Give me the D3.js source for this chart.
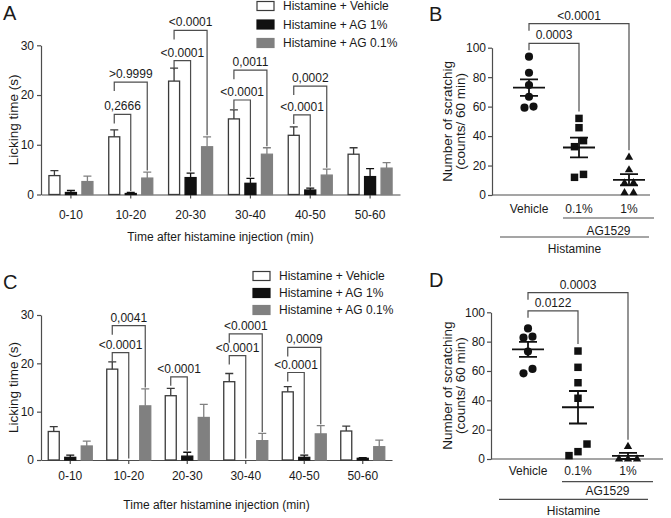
<!DOCTYPE html>
<html>
<head>
<meta charset="utf-8">
<script src="https://cdn.jsdelivr.net/npm/d3@7"></script>
<style>
  body { margin: 0; background: #fff; }
  svg { font-family: "Liberation Sans", Arial, Helvetica, sans-serif; }
  .labelText { font-size: 12px; fill: #1a1a1a; }
  .axisTitle { font-size: 13.5px; fill: #1a1a1a; }
  .panelLetter { font-size: 20px; fill: #1a1a1a; }
</style>
</head>
<body>
<svg id="fig" width="671" height="518"></svg>
<script>
// ---- data ----
const timeBins = ['0-10', '10-20', '20-30', '30-40', '40-50', '50-60'];
const seriesNames = ['Histamine + Vehicle', 'Histamine + AG 1%', 'Histamine + AG 0.1%'];
const licksTicks = [0, 10, 20, 30];

// panel A: mean and SEM per time bin
const aVehicle = [3.8, 11.6, 22.8, 15.2, 11.9, 8.1];
const aVehicleErr = [1.0, 1.4, 2.6, 1.8, 1.7, 1.3];
const aAg1 = [0.4, 0.2, 3.4, 2.25, 0.9, 3.6];
const aAg1Err = [0.4, 0.2, 0.9, 1.0, 0.4, 1.6];
const aAg01 = [2.6, 3.3, 9.6, 8.1, 3.9, 5.3];
const aAg01Err = [1.1, 1.2, 2.0, 1.3, 1.2, 1.1];
const aComparisons = [
  { bin: '10-20', target: 1, level: 16.1, text: '0,2666' },
  { bin: '10-20', target: 2, level: 22.6, text: '>0.9999' },
  { bin: '20-30', target: 1, level: 26.9, text: '<0.0001' },
  { bin: '20-30', target: 2, level: 33.0, text: '<0.0001' },
  { bin: '30-40', target: 1, level: 19.0, text: '<0.0001' },
  { bin: '30-40', target: 2, level: 25.0, text: '0,0011' },
  { bin: '40-50', target: 1, level: 16.0, text: '<0.0001' },
  { bin: '40-50', target: 2, level: 21.8, text: '0,0002' },
];

// panel C
const cVehicle = [5.9, 18.8, 13.3, 16.2, 14.1, 6.0];
const cVehicleErr = [1.0, 1.5, 1.5, 1.7, 1.1, 1.0];
const cAg1 = [0.55, 0, 0.8, 0, 0.55, 0.35];
const cAg1Err = [0.45, 0, 0.8, 0, 0.45, 0.15];
const cAg01 = [2.9, 11.2, 8.8, 4.0, 5.4, 2.75];
const cAg01Err = [1.0, 3.5, 2.7, 1.5, 1.7, 1.35];
const cComparisons = [
  { bin: '10-20', target: 1, level: 22.2, text: '<0.0001' },
  { bin: '10-20', target: 2, level: 27.8, text: '0,0041' },
  { bin: '20-30', target: 1, level: 17.2, text: '<0.0001' },
  { bin: '30-40', target: 1, level: 21.6, text: '<0.0001' },
  { bin: '30-40', target: 2, level: 26.1, text: '<0.0001' },
  { bin: '40-50', target: 1, level: 18.1, text: '<0.0001' },
  { bin: '40-50', target: 2, level: 23.3, text: '0,0009' },
];

// scatter panels: individual animals
const doseGroups = ['Vehicle', '0.1%', '1%'];
const countTicks = [0, 20, 40, 60, 80, 100];
const bVehicle = [93.9, 83.0, 74.7, 66.7, 60.0, 59.3];
const bAg01 = [52.0, 45.7, 36.9, 32.8, 14.0, 12.0];
const bAg1 = [25.6, 17.0, 8.3, 8.1, 1.5, 1.5];
const bComparisons = [
  { target: '0.1%', level: 103, text: '0.0003' },
  { target: '1%', level: 116.3, text: '<0.0001' },
];
const dVehicle = [89.0, 83.4, 82.7, 73.2, 61.4, 58.4];
const dAg01 = [73.6, 62.5, 52.0, 41.4, 10.2, 5.0, 2.3];
const dAg1 = [8.4, 0, 0, 0];
const dComparisons = [
  { target: '0.1%', level: 101, text: '0.0122' },
  { target: '1%', level: 113.4, text: '0.0003' },
];

// ---- drawing ----
const svg = d3.select('#fig');
const axisColor = '#4d4d4d';
const ink = '#1a1a1a';
const barFill = ['#ffffff', '#111111', '#808080'];
const barStroke = ['#3a3a3a', '#111111', '#808080'];

function styleAxis(sel) {
  sel.attr('font-size', null).attr('font-family', null)
  sel.select('.domain').attr('stroke', axisColor).attr('stroke-width', 1.2)
  sel.selectAll('.tick line').attr('stroke', axisColor).attr('stroke-width', 1.2)
  sel.selectAll('.tick text').attr('class', 'labelText').attr('fill', ink)
}

function drawBars(o) {
  const g = svg.append('g')
  const y = d3.scaleLinear().domain([0, 30]).range([o.zeroY, o.topY])
  const x = d3.scaleBand().domain(timeBins).range([o.left, o.right])
  const inner = d3.scaleBand().domain([0, 1, 2]).range([-22, 22]).paddingInner(1 / 3)
  const barX = (bin, s) => x(bin) + x.bandwidth() / 2 + inner(s)
  const barMid = (bin, s) => barX(bin, s) + inner.bandwidth() / 2

  g.append('g')
    .attr('transform', `translate(${o.left}, 0)`)
    .call(d3.axisLeft(y).tickValues(licksTicks).tickSize(4).tickSizeOuter(0).tickPadding(3))
    .call(styleAxis)

  g.append('g')
    .attr('transform', `translate(0, ${o.zeroY})`)
    .call(d3.axisBottom(x).tickSize(4).tickSizeOuter(0).tickPadding(o.tickPad))
    .call(styleAxis)

  o.series.forEach((vals, s) => {
    const rows = timeBins.map((bin, i) => ({ bin, v: vals[i], e: o.errs[s][i] })).filter((d) => d.v > 0)
    const sg = g.append('g')
    sg.selectAll('rect')
      .data(rows)
      .enter()
      .append('rect')
      .attr('x', (d) => barX(d.bin, s))
      .attr('width', inner.bandwidth())
      .attr('y', (d) => y(d.v))
      .attr('height', (d) => y(0) - y(d.v))
      .attr('fill', barFill[s])
      .attr('stroke', barStroke[s])
      .attr('stroke-width', 1.3)
    sg.selectAll('path')
      .data(rows)
      .enter()
      .append('path')
      .attr('d', (d) => {
        const cx = barMid(d.bin, s)
        return `M${cx},${y(d.v)}V${y(d.v + d.e)}M${cx - 4},${y(d.v + d.e)}H${cx + 4}`
      })
      .attr('fill', 'none')
      .attr('stroke', barStroke[s])
      .attr('stroke-width', 1.3)
  })

  const cg = g.append('g')
  o.comparisons.forEach((c) => {
    const i = timeBins.indexOf(c.bin)
    const x1 = barMid(c.bin, 0)
    const x2 = barMid(c.bin, c.target)
    const yb = y(c.level)
    const end = y(o.series[c.target][i] + o.errs[c.target][i]) - 1.5
    cg.append('path')
      .attr('d', `M${x1},${yb + 9}V${yb}H${x2}V${end}`)
      .attr('fill', 'none')
      .attr('stroke', axisColor)
      .attr('stroke-width', 1.2)
    cg.append('text')
      .text(c.text)
      .attr('x', (x1 + x2) / 2)
      .attr('y', yb - 4)
      .attr('text-anchor', 'middle')
      .attr('class', 'labelText')
  })

  g.append('text')
    .text('Licking time (s)')
    .attr('transform', `translate(${o.yLabelX}, ${(o.zeroY + o.topY) / 2}) rotate(-90)`)
    .attr('text-anchor', 'middle')
    .attr('dy', '0.35em')
    .attr('class', 'axisTitle')

  g.append('text')
    .text('Time after histamine injection (min)')
    .attr('x', (o.left + o.right) / 2)
    .attr('y', o.titleY)
    .attr('text-anchor', 'middle')
    .attr('class', 'labelText')

  const lg = g.append('g')
  seriesNames.forEach((name, s) => {
    lg.append('rect')
      .attr('x', o.legendX)
      .attr('y', o.legendY + s * o.legendStep - 4.5)
      .attr('width', 17)
      .attr('height', 9)
      .attr('fill', barFill[s])
      .attr('stroke', barStroke[s])
      .attr('stroke-width', 1.2)
    lg.append('text')
      .text(name)
      .attr('x', o.legendX + 26)
      .attr('y', o.legendY + s * o.legendStep)
      .attr('dy', '0.35em')
      .attr('class', 'labelText')
  })

  g.append('text')
    .text(o.letter)
    .attr('x', o.letterX)
    .attr('y', o.letterY)
    .attr('class', 'panelLetter')
}

// lay out the dots of one column: dots that overlap vertically sit side by side
function spread(vals, y) {
  const order = vals.map((v, i) => i).sort((a, b) => vals[b] - vals[a])
  const offs = new Array(vals.length).fill(0)
  let cluster = []
  const flush = () => {
    const c = cluster.slice().sort((a, b) => vals[a] - vals[b])
    c.forEach((idx, k) => { offs[idx] = (k - (c.length - 1) / 2) * 9 })
    cluster = []
  }
  order.forEach((idx, k) => {
    if (k > 0 && y(vals[idx]) - y(vals[order[k - 1]]) >= 8) flush()
    cluster.push(idx)
  })
  flush()
  return offs
}

function drawScatter(o) {
  const g = svg.append('g')
  const y = d3.scaleLinear().domain([0, 100]).range([o.zeroY, o.topY])
  const x = d3.scalePoint().domain(doseGroups).range([o.left + 37, o.left + 137])
  const shapes = [d3.symbolCircle, d3.symbolSquare, d3.symbolTriangle]
  const sizes = [52, 56, 30]

  g.append('g')
    .attr('transform', `translate(${o.left}, 0)`)
    .call(d3.axisLeft(y).tickValues(countTicks).tickSize(4).tickSizeOuter(0).tickPadding(2))
    .call(styleAxis)

  g.append('line')
    .attr('x1', o.left)
    .attr('x2', o.right)
    .attr('y1', o.zeroY)
    .attr('y2', o.zeroY)
    .attr('stroke', axisColor)
    .attr('stroke-width', 1.2)

  o.groups.forEach((vals, gi) => {
    const cx = x(doseGroups[gi])
    const offs = spread(vals, y)
    g.append('g')
      .selectAll('path')
      .data(vals)
      .enter()
      .append('path')
      .attr('d', d3.symbol().type(shapes[gi]).size(sizes[gi]))
      .attr('transform', (d, i) => `translate(${cx + offs[i]}, ${y(d)})`)
      .attr('fill', '#111')

    const m = d3.mean(vals)
    const sem = d3.deviation(vals) / Math.sqrt(vals.length)
    g.append('path')
      .attr('d', `M${cx - 16},${y(m)}H${cx + 16}` +
        `M${cx - 9},${y(m + sem)}H${cx + 9}M${cx - 9},${y(m - sem)}H${cx + 9}` +
        `M${cx},${y(m + sem)}V${y(m - sem)}`)
      .attr('fill', 'none')
      .attr('stroke', '#111')
      .attr('stroke-width', 1.8)
  })

  o.comparisons.forEach((c) => {
    const gi = doseGroups.indexOf(c.target)
    const x1 = x(doseGroups[0])
    const x2 = x(c.target)
    const yb = y(c.level)
    const end = y(d3.max(o.groups[gi])) - 7
    g.append('path')
      .attr('d', `M${x1},${yb + 7}V${yb}H${x2}V${end}`)
      .attr('fill', 'none')
      .attr('stroke', axisColor)
      .attr('stroke-width', 1.2)
    g.append('text')
      .text(c.text)
      .attr('x', (x1 + x2) / 2)
      .attr('y', yb - 4)
      .attr('text-anchor', 'middle')
      .attr('class', 'labelText')
  })

  // treatment labels under the axis
  g.selectAll('.cat')
    .data(doseGroups)
    .enter()
    .append('text')
    .text((d) => d)
    .attr('x', (d) => x(d))
    .attr('y', o.zeroY + o.catDy)
    .attr('text-anchor', 'middle')
    .attr('class', 'labelText')

  g.append('line')
    .attr('x1', x('0.1%') - 16).attr('x2', x('1%') + 25)
    .attr('y1', o.zeroY + o.line1Dy).attr('y2', o.zeroY + o.line1Dy)
    .attr('stroke', axisColor).attr('stroke-width', 1.2)
  g.append('text')
    .text('AG1529')
    .attr('x', (x('0.1%') - 16 + x('1%') + 25) / 2)
    .attr('y', o.zeroY + o.agDy)
    .attr('text-anchor', 'middle')
    .attr('class', 'labelText')
  g.append('line')
    .attr('x1', x('Vehicle') - 29).attr('x2', x('1%') + 20)
    .attr('y1', o.zeroY + o.line2Dy).attr('y2', o.zeroY + o.line2Dy)
    .attr('stroke', axisColor).attr('stroke-width', 1.2)
  g.append('text')
    .text('Histamine')
    .attr('x', (x('Vehicle') - 29 + x('1%') + 20) / 2)
    .attr('y', o.zeroY + o.hisDy)
    .attr('text-anchor', 'middle')
    .attr('class', 'labelText')

  o.yLabel.forEach((line, k) => {
    g.append('text')
      .text(line)
      .attr('transform', `translate(${o.yLabelX + k * 13}, ${(o.zeroY + o.topY) / 2}) rotate(-90)`)
      .attr('text-anchor', 'middle')
      .attr('dy', '0.35em')
      .attr('class', 'axisTitle')
  })

  g.append('text')
    .text(o.letter)
    .attr('x', o.letterX)
    .attr('y', o.letterY)
    .attr('class', 'panelLetter')
}

drawBars({
  letter: 'A', letterX: 3, letterY: 20,
  left: 41, right: 400, zeroY: 194.5, topY: 45.3,
  tickPad: 12, titleY: 241, yLabelX: 13,
  legendX: 257, legendY: 6, legendStep: 18.5,
  series: [aVehicle, aAg1, aAg01],
  errs: [aVehicleErr, aAg1Err, aAg01Err],
  comparisons: aComparisons,
})

drawBars({
  letter: 'C', letterX: 3, letterY: 289,
  left: 41, right: 392, zeroY: 460, topY: 315,
  tickPad: 7, titleY: 509, yLabelX: 13,
  legendX: 253, legendY: 276, legendStep: 17,
  series: [cVehicle, cAg1, cAg01],
  errs: [cVehicleErr, cAg1Err, cAg01Err],
  comparisons: cComparisons,
})

drawScatter({
  letter: 'B', letterX: 429, letterY: 21,
  left: 492, right: 650, zeroY: 195, topY: 47.7,
  groups: [bVehicle, bAg01, bAg1],
  comparisons: bComparisons,
  yLabel: ['Number of scratchig', '(counts/ 60 min)'], yLabelX: 447,
  catDy: 17.5, line1Dy: 23, agDy: 39.5, line2Dy: 42, hisDy: 57.5,
})

drawScatter({
  letter: 'D', letterX: 429, letterY: 287,
  left: 491, right: 663, zeroY: 459, topY: 312.3,
  groups: [dVehicle, dAg01, dAg1],
  comparisons: dComparisons,
  yLabel: ['Number of scratching', '(counts/ 60 min)'], yLabelX: 447,
  catDy: 15.5, line1Dy: 22.7, agDy: 36, line2Dy: 40.3, hisDy: 56,
})
</script>
</body>
</html>
